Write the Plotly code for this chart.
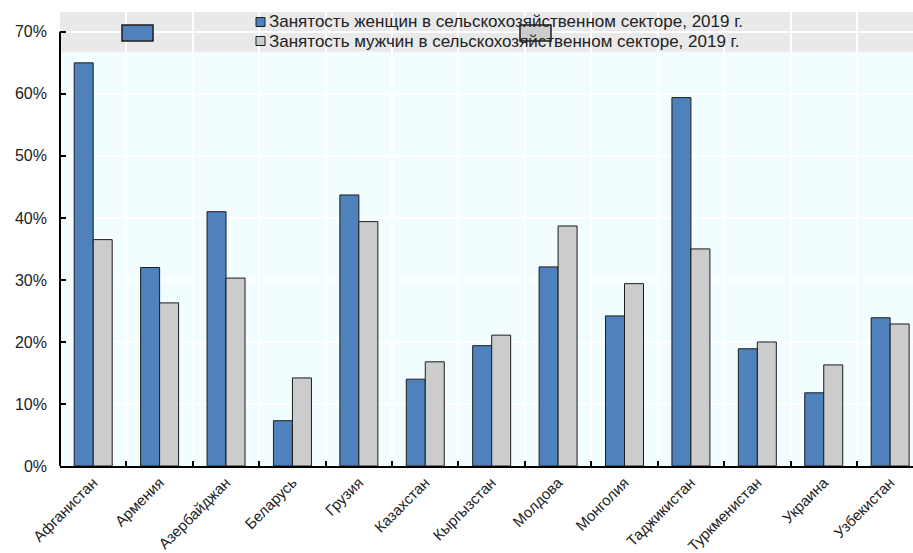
import plotly.graph_objects as go

# Страны и доля занятых в сельском хозяйстве, %
countries = ["Афганистан", "Армения", "Азербайджан", "Беларусь", "Грузия",
             "Казахстан", "Кыргызстан", "Молдова", "Монголия", "Таджикистан",
             "Туркменистан", "Украина", "Узбекистан"]
women = [65.0, 32.0, 41.0, 7.3, 43.7, 14.0, 19.4, 32.1, 24.2, 59.4, 18.9, 11.8, 23.9]
men = [36.5, 26.3, 30.3, 14.2, 39.4, 16.8, 21.1, 38.7, 29.4, 35.0, 20.0, 16.3, 22.9]

women_name = "Занятость женщин в сельскохозяйственном секторе, 2019 г."
men_name = "Занятость мужчин в сельскохозяйственном секторе, 2019 г."

y_ticks = [0, 10, 20, 30, 40, 50, 60, 70]

BLUE = "#4f81bd"
GREY = "#cccccc"
EDGE = "#1c1c1c"
FONT = "Liberation Sans, Arial, sans-serif"

W, H = 913, 553
L, R, T, B = 60, 0, 12, 87
PW, PH = W - L - R, H - T - B


def px_x(px):
    """Horizontal pixel -> paper fraction."""
    return (px - L) / PW


def px_y(py):
    """Vertical pixel (from top) -> paper fraction."""
    return (H - B - py) / PH


fig = go.Figure()
fig.add_trace(go.Bar(x=countries, y=women, name=women_name, showlegend=False,
                     marker=dict(color=BLUE, line=dict(color=EDGE, width=1))))
fig.add_trace(go.Bar(x=countries, y=men, name=men_name, showlegend=False,
                     marker=dict(color=GREY, line=dict(color=EDGE, width=1))))

Y_TOP = 73.2
BAND_LOW = 66.8

shapes = [
    # grey legend band across the top of the plot
    dict(type="rect", xref="paper", yref="y", x0=0, x1=1, y0=BAND_LOW, y1=Y_TOP,
         fillcolor="#e9e9e9", line=dict(width=0), layer="between"),
    # left axis line
    dict(type="line", xref="paper", yref="y", x0=0, x1=0, y0=0, y1=70,
         line=dict(color="#000000", width=2), layer="above"),
    # stray legend swatches
    dict(type="rect", xref="paper", yref="paper", x0=px_x(122), x1=px_x(153),
         y0=px_y(41), y1=px_y(25),
         fillcolor=BLUE, line=dict(color=EDGE, width=1.5), layer="above"),
    dict(type="rect", xref="paper", yref="paper", x0=px_x(520), x1=px_x(551),
         y0=px_y(41), y1=px_y(25),
         fillcolor=GREY, line=dict(color=EDGE, width=1.5), layer="above"),
]

annotations = []
# legend: small swatch + label for each series
for (name, color, cy) in [(women_name, BLUE, 22), (men_name, GREY, 41)]:
    shapes.append(dict(type="rect", xref="paper", yref="paper",
                       x0=px_x(256), x1=px_x(265), y0=px_y(cy + 4.5), y1=px_y(cy - 4.5),
                       fillcolor=color, line=dict(color=EDGE, width=1), layer="above"))
    annotations.append(dict(text=name, xref="paper", yref="paper",
                            x=px_x(267), y=px_y(cy), xanchor="left", yanchor="middle",
                            showarrow=False,
                            font=dict(size=17, family=FONT, color="#222222")))

fig.update_layout(
    width=W, height=H,
    margin=dict(l=L, r=R, t=T, b=B),
    paper_bgcolor="#ffffff",
    plot_bgcolor="#f2fdff",
    barmode="group",
    bargap=0.428,
    bargroupgap=0,
    font=dict(family=FONT, size=16, color="#222222"),
    showlegend=False,
    shapes=shapes,
    annotations=annotations,
)

fig.update_xaxes(
    range=[-0.5, 12.344],
    automargin=False,
    tickson="boundaries",
    ticks="inside", ticklen=5, tickwidth=1.5, tickcolor="#000000",
    showgrid=True, gridcolor="#ffffff", gridwidth=2,
    showline=True, linecolor="#000000", linewidth=2,
    tickangle=-45,
    tickfont=dict(size=15, family=FONT, color="#222222"),
)

fig.update_yaxes(
    range=[0, Y_TOP],
    automargin=False,
    tickvals=y_ticks,
    ticktext=[f"{v}%" for v in y_ticks],
    ticks="inside", ticklen=6, tickwidth=1.5, tickcolor="#000000",
    showgrid=True, gridcolor="#ffffff", gridwidth=2,
    showline=False, zeroline=False,
    ticklabelstandoff=12,
    tickfont=dict(size=16, family=FONT, color="#222222"),
)

fig.write_html("out.html")
